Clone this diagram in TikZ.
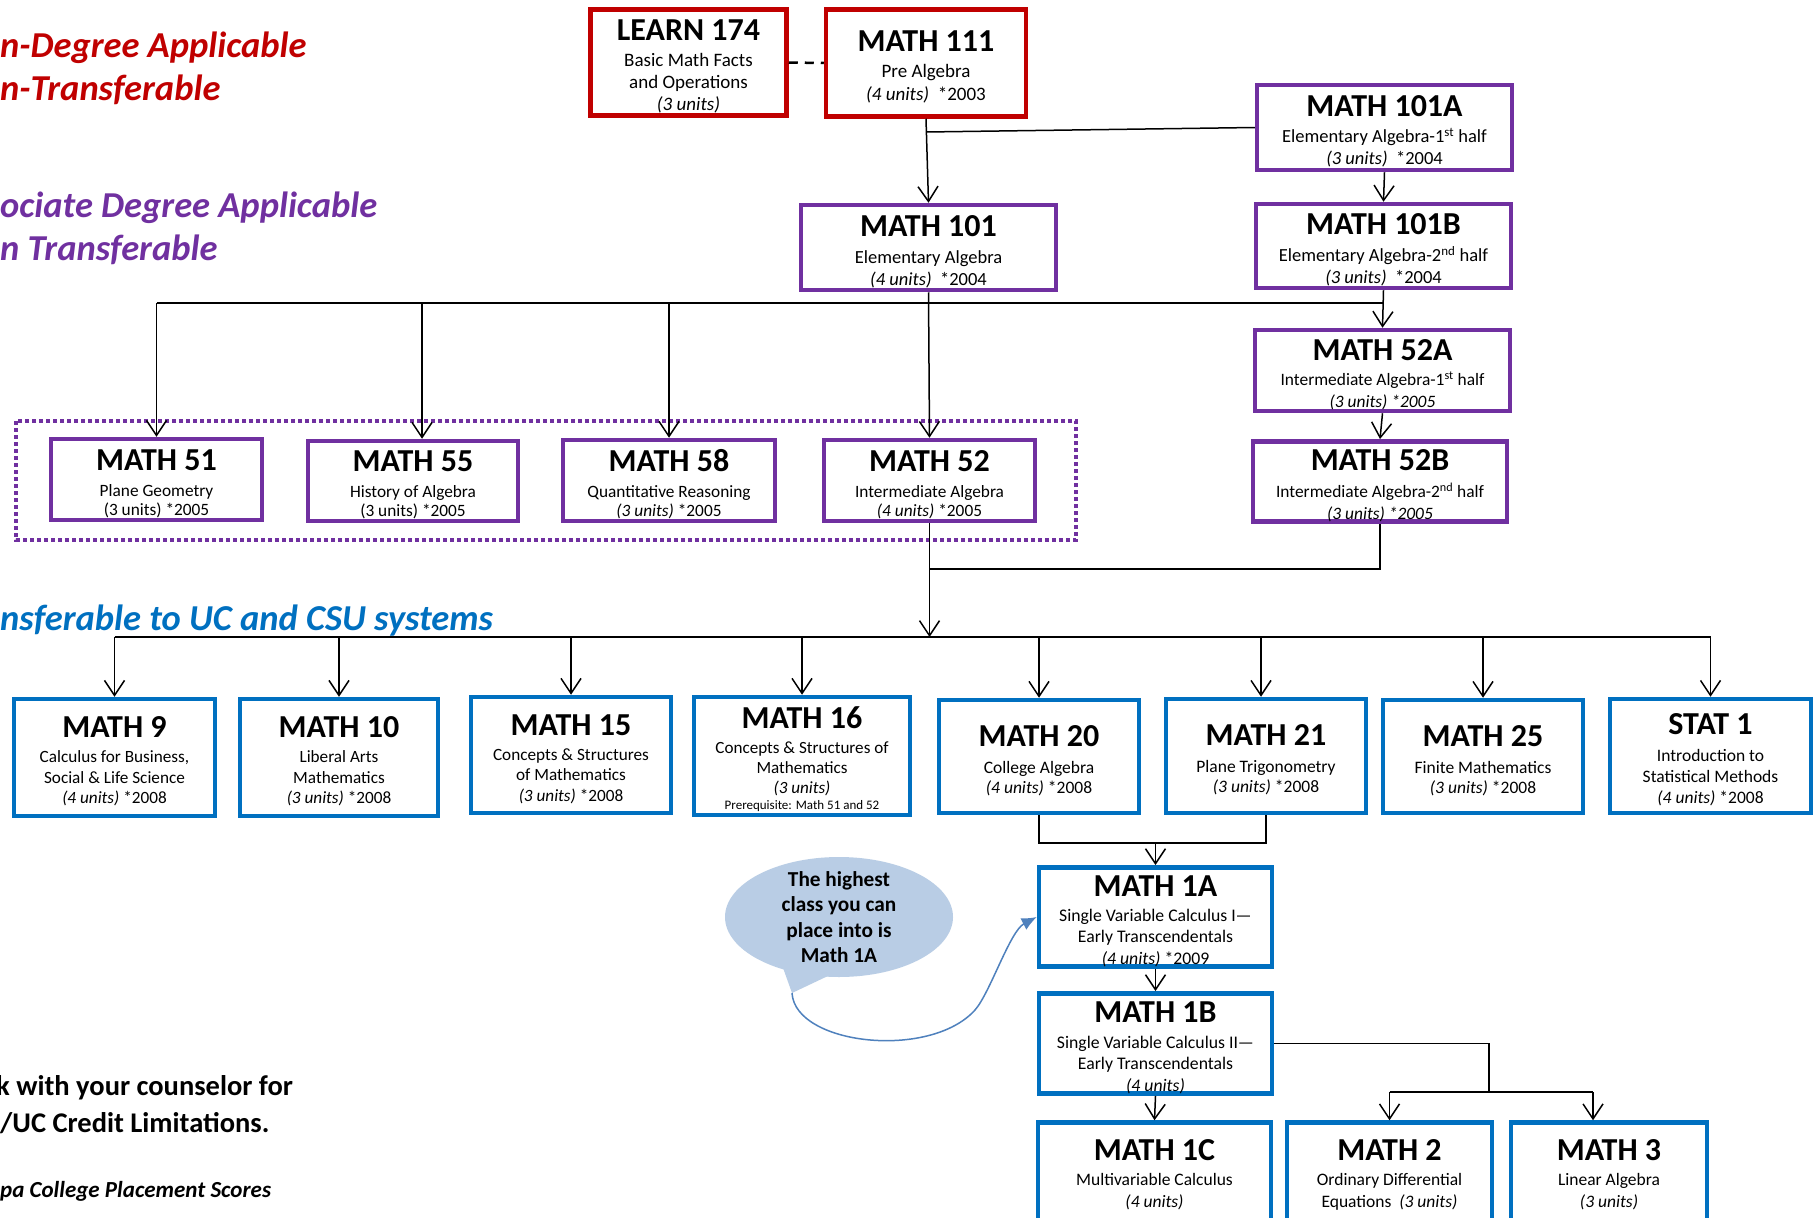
\documentclass[tikz,border=0pt]{standalone}
\usepackage{fontspec}
\setmainfont{Carlito}
\usetikzlibrary{arrows.meta,calc}
\definecolor{redc}{HTML}{C00000}
\definecolor{purplec}{HTML}{7030A0}
\definecolor{bluec}{HTML}{0070C0}
\definecolor{bubblec}{HTML}{B9CDE5}
\definecolor{curvec}{HTML}{4F81BD}
\newcommand\crs[1]{{\fontsize{32}{32}\selectfont\bfseries\rule{0pt}{29pt}#1}}
\newcommand\fsz[2]{\fontsize{#1}{#2}\selectfont}
\tikzset{
  course/.style={draw,line width=4.5pt,fill=white,align=center,inner sep=0pt},
  nondeg/.style={course,draw=redc},
  assoc/.style={course,draw=purplec},
  transfer/.style={course,draw=bluec},
  box/.style 2 args={minimum width=#1pt,minimum height=#2pt},
  link/.style={line width=1.5pt},
  arr/.style={link,-{Straight Barb[length=15pt,width=20pt]}},
  heading/.style={anchor=base west,inner sep=0pt,font=\fsz{36.5}{40}\bfseries\itshape},
  note/.style={anchor=base west,inner sep=0pt,font=\fsz{28.5}{32}\bfseries},
}
\begin{document}
\begin{tikzpicture}[x=1pt,y=-1pt]
  \useasboundingbox (0,0) rectangle (1815,1218);
  \clip (0,0) rectangle (1815,1218);
  \fill[white] (0,0) rectangle (1815,1218);

  \node[heading,text=redc] (nd1) at (0,57) {n-Degree Applicable};
  \node[heading,text=redc] (nd2) at (0,100) {n-Transferable};
  \node[heading,text=purplec] (ad1) at (0,217) {ociate Degree Applicable};
  \node[heading,text=purplec] (ad2) at (0,260) {n Transferable};
  \node[heading,text=bluec] (tr) at (0,630) {nsferable to UC and CSU systems};
  \node[note] (cn1) at (-4,1095) {k with your counselor for};
  \node[note] (cn2) at (0,1132) {/UC Credit Limitations.};
  \node[note,font=\fsz{23}{26}\bfseries\itshape] (pl) at (0,1197) {pa College Placement Scores};

  \node[nondeg,box={196}{106},font=\fsz{19}{22}] (l174) at (688.5,62.5) {\crs{LEARN 174}\\[4pt]Basic Math Facts\\and Operations\\\textit{(3 units)}};
  \node[nondeg,box={200}{107},font=\fsz{19}{22.5}] (m111) at (926,63) {\crs{MATH 111}\\[3.5pt]Pre Algebra\\\textit{(4 units)}~~*2003};
  \node[assoc,box={255}{85},font=\fsz{18.5}{22}] (m101) at (928.5,247.5) {\crs{MATH 101}\\[5pt]Elementary Algebra\\\textit{(4 units)}~~*2004};
  \node[assoc,box={255}{85},font=\fsz{18.5}{22}] (m101a) at (1384.5,127.5) {\crs{MATH 101A}\\[4pt]Elementary Algebra-1\textsuperscript{st} half\\\textit{(3 units)}~~*2004};
  \node[assoc,box={255}{84},font=\fsz{18.5}{22}] (m101b) at (1383.5,246) {\crs{MATH 101B}\\[5pt]Elementary Algebra-2\textsuperscript{nd} half\\\textit{(3 units)}~~*2004};
  \node[assoc,box={255}{81},font=\fsz{17.4}{22}] (m52a) at (1382.5,370.5) {\crs{MATH 52A}\\[3pt]Intermediate Algebra-1\textsuperscript{st} half\\\textit{(3 units) *2005}};
  \node[assoc,box={254}{79},font=\fsz{17.4}{22}] (m52b) at (1380,481.5) {\crs{MATH 52B}\\[5pt]Intermediate Algebra-2\textsuperscript{nd} half\\\textit{(3 units) *2005}};

  \draw[purplec,line width=4pt,dash pattern=on 4pt off 3pt] (16,421) rectangle (1076,540);
  \node[assoc,box={211}{81},font=\fsz{17.3}{19}] (m51) at (156.5,479.5) {\crs{MATH 51}\\[7pt]Plane Geometry\\(3 units) *2005};
  \node[assoc,box={210}{80},font=\fsz{17.3}{19}] (m55) at (413,481) {\crs{MATH 55}\\[7pt]History of Algebra\\(3 units) *2005};
  \node[assoc,box={212}{81},font=\fsz{17.3}{19}] (m58) at (669,480.5) {\crs{MATH 58}\\[7pt]Quantitative Reasoning\\\textit{(3 units)} *2005};
  \node[assoc,box={211}{81},font=\fsz{17.3}{19}] (m52) at (929.5,480.5) {\crs{MATH 52}\\[7pt]Intermediate Algebra\\\textit{(4 units)} *2005};

  \node[transfer,box={201}{117},font=\fsz{17.2}{20.5}] (m9) at (114.5,757.5) {\crs{MATH 9}\\[4.5pt]Calculus for Business,\\Social \& Life Science\\\textit{(4 units)} *2008};
  \node[transfer,box={198}{117},font=\fsz{17.2}{20.5}] (m10) at (339,757.5) {\crs{MATH 10}\\[4.5pt]Liberal Arts\\Mathematics\\\textit{(3 units)} *2008};
  \node[transfer,box={200}{116},font=\fsz{17.2}{20.5}] (m15) at (571,755) {\crs{MATH 15}\\[4.5pt]Concepts \& Structures\\of Mathematics\\\textit{(3 units)} *2008};
  \node[transfer,box={216}{118},font=\fsz{17.1}{20}] (m16) at (802,756) {\crs{MATH 16}\\[5pt]Concepts \& Structures of\\Mathematics\\\textit{(3 units)}\\[-4pt]{\fsz{13}{14}Prerequisite: Math 51 and 52}};
  \node[transfer,box={200}{113},font=\fsz{17.5}{20}] (m20) at (1039,756.5) {\crs{MATH 20}\\[7pt]College Algebra\\\textit{(4 units)} *2008};
  \node[transfer,box={200}{114},font=\fsz{17.5}{20}] (m21) at (1266,756) {\crs{MATH 21}\\[7pt]Plane Trigonometry\\\textit{(3 units)} *2008};
  \node[transfer,box={200}{113},font=\fsz{17.5}{20}] (m25) at (1483,756.5) {\crs{MATH 25}\\[7pt]Finite Mathematics\\\textit{(3 units)} *2008};
  \node[transfer,box={201}{114},font=\fsz{17.5}{21}] (st1) at (1710.5,756) {\crs{STAT 1}\\[6pt]Introduction to\\Statistical Methods\\\textit{(4 units)} *2008};

  \node[transfer,box={233}{96},font=\fsz{17.7}{21.5}] (m1a) at (1155.5,917) {\crs{MATH 1A}\\[3.5pt]Single Variable Calculus I—\\Early Transcendentals\\\textit{(4 units)} *2009};
  \node[transfer,box={233}{97},font=\fsz{17.7}{21.5}] (m1b) at (1155.5,1043.5) {\crs{MATH 1B}\\[4.5pt]Single Variable Calculus II—\\Early Transcendentals\\\textit{(4 units)}};
  \node[transfer,box={233}{113},font=\fsz{17.5}{22}] (m1c) at (1154.5,1179) {\crs{MATH 1C}\\[3pt]Multivariable Calculus\\\textit{(4 units)}\\[-2pt]\mbox{}};
  \node[transfer,box={205}{113},font=\fsz{17.5}{22}] (m2) at (1389.5,1179) {\crs{MATH 2}\\[3pt]Ordinary Differential\\Equations~~\textit{(3 units)}\\[-2pt]\mbox{}};
  \node[transfer,box={196}{113},font=\fsz{17.5}{22}] (m3) at (1609,1179) {\crs{MATH 3}\\[3pt]Linear Algebra\\\textit{(3 units)}\\[-2pt]\mbox{}};

  \fill[bubblec] (839,917) ellipse (114pt and 60pt);
  \coordinate (tailtip) at (792,993);
  \fill[bubblec] (782,965) -- (tailtip) -- (830,975) -- cycle;
  \node[align=center,inner sep=0pt,font=\fsz{21.3}{25.5}\bfseries] (bubble) at (839,917) {The highest\\class you can\\place into is\\Math 1A};
  \draw[curvec,line width=1.5pt,-{Latex[length=15pt,width=13pt]}] (tailtip) .. controls (795,1045) and (930,1060) .. (975,1010) .. controls (990,993) and (1010,931) .. (m1a.west);

  \draw[line width=2.5pt,dash pattern=on 9pt off 7pt] (l174.east) -- (m111.west);
  \draw[arr] (m111.south) -- (m101.north);
  \coordinate (fork) at (926,132);
  \draw[link] (fork) -- (m101a.west);
  \draw[arr] (m101a.south) -- (m101b.north);
  \draw[arr] (m101b.south) -- (m52a.north);
  \draw[arr] (m52a.south) -- (m52b.north);
  \coordinate (bus1) at (156.5,303);
  \draw[link] (bus1) -- (m101b.south |- bus1);
  \draw[arr] (bus1) -- (m51.north);
  \draw[arr] ($(m55.north |- bus1)+(9,0)$) -- ($(m55.north)+(9,0)$);
  \draw[arr] (m58.north |- bus1) -- (m58.north);
  \draw[arr] (m101.south) -- (m52.north);
  \coordinate (join) at (929.5,569);
  \draw[link] (m52b.south) |- (join);
  \coordinate (bus2) at (114.5,637);
  \draw[arr] (m52.south) -- (m52.south |- bus2);
  \draw[link] (bus2) -- (st1.north |- bus2);
  \draw[arr] (bus2) -- (m9.north);
  \draw[arr] (m10.north |- bus2) -- (m10.north);
  \draw[arr] (m15.north |- bus2) -- (m15.north);
  \draw[arr] (m16.north |- bus2) -- (m16.north);
  \draw[arr] (m20.north |- bus2) -- (m20.north);
  \draw[arr] ($(m21.north |- bus2)+(-5,0)$) -- ($(m21.north)+(-5,0)$);
  \draw[arr] (m25.north |- bus2) -- (m25.north);
  \draw[arr] (st1.north |- bus2) -- (st1.north);
  \coordinate (merge) at (1155.5,843);
  \draw[link] (m20.south) |- (merge) -| (m21.south);
  \draw[arr] (merge) -- (m1a.north);
  \draw[arr] (m1a.south) -- (m1b.north);
  \draw[arr] (m1b.south) -- (m1c.north);
  \coordinate (split) at (1489,1092);
  \draw[link] (m1b.east) -| (split);
  \draw[link,line width=2.5pt] (m2.north |- split) -- ($(m3.north |- split)+(-16,0)$);
  \draw[arr] (m2.north |- split) -- (m2.north);
  \draw[arr] ($(m3.north |- split)+(-16,0)$) -- ($(m3.north)+(-16,0)$);
\end{tikzpicture}
\end{document}
